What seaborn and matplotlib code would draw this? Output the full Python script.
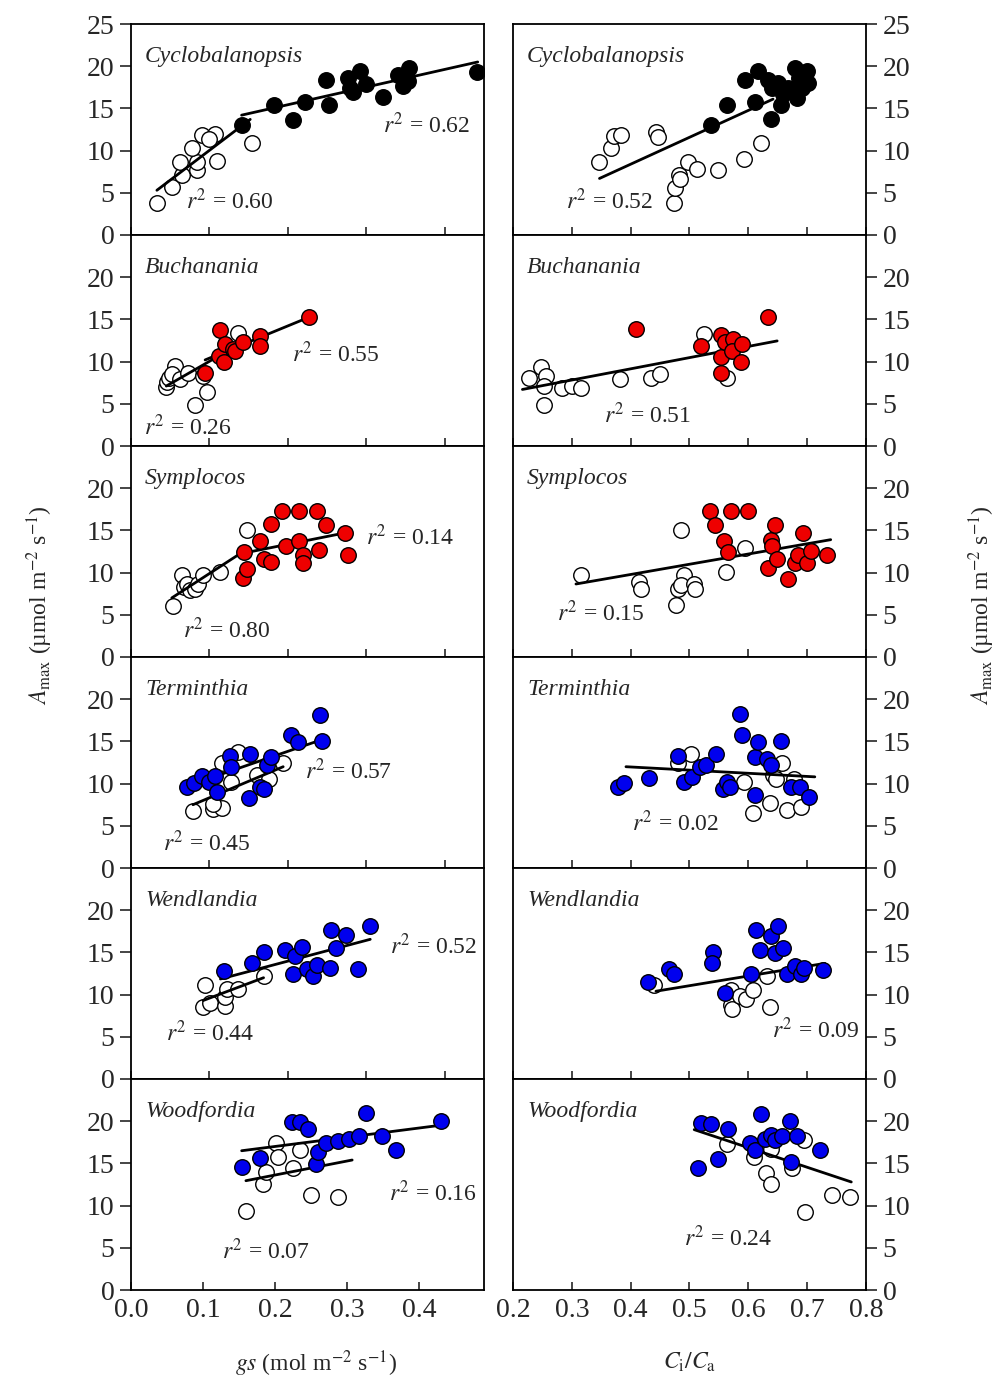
import numpy as np
import pandas as pd
import matplotlib
matplotlib.use("Agg")
import matplotlib.pyplot as plt
import seaborn as sns

# ---------------- data ----------------
species = ["Cyclobalanopsis", "Buchanania", "Symplocos", "Terminthia", "Wendlandia", "Woodfordia"]
fill_colors = ["#000000", "#ee0000", "#ee0000", "#0000ee", "#0000ee", "#0000ee"]

# Cyclobalanopsis
cyc_gs_open_x = [0.033, 0.052, 0.065, 0.063, 0.084, 0.084, 0.078, 0.090, 0.107, 0.099, 0.109, 0.154]
cyc_gs_open_y = [3.8, 5.7, 7.1, 8.65, 7.7, 8.65, 10.3, 11.8, 12.0, 11.4, 8.8, 10.9]
cyc_gs_fill_x = [0.141, 0.182, 0.206, 0.222, 0.248, 0.253, 0.277, 0.279, 0.283, 0.292, 0.300, 0.321, 0.340, 0.354, 0.347, 0.353, 0.441]
cyc_gs_fill_y = [13.0, 15.4, 13.65, 15.7, 18.35, 15.4, 18.6, 17.45, 16.9, 19.4, 17.85, 16.3, 19.0, 19.8, 17.6, 18.2, 19.3]
cyc_gs_open_line_x = [0.033, 0.152]
cyc_gs_open_line_y = [5.3, 13.7]
cyc_gs_fill_line_x = [0.141, 0.442]
cyc_gs_fill_line_y = [14.2, 20.5]

cyc_cc_open_x = [0.347, 0.366, 0.372, 0.383, 0.443, 0.446, 0.473, 0.475, 0.483, 0.484, 0.498, 0.513, 0.548, 0.592, 0.621]
cyc_cc_open_y = [8.7, 10.3, 11.7, 11.8, 12.2, 11.6, 3.8, 5.6, 7.1, 6.6, 8.6, 7.8, 7.7, 9.0, 10.9]
cyc_cc_fill_x = [0.536, 0.564, 0.595, 0.612, 0.617, 0.633, 0.639, 0.641, 0.650, 0.655, 0.659, 0.667, 0.679, 0.683, 0.686, 0.699, 0.701, 0.692]
cyc_cc_fill_y = [13.0, 15.4, 18.35, 15.8, 19.4, 18.4, 13.7, 17.45, 18.0, 15.4, 16.7, 17.45, 19.8, 16.2, 18.6, 19.4, 18.0, 17.45]
cyc_cc_line_x = [0.347, 0.642]
cyc_cc_line_y = [6.7, 16.1]

# Buchanania
buc_gs_open_x = [0.044, 0.046, 0.048, 0.056, 0.052, 0.063, 0.073, 0.092, 0.097, 0.082, 0.137]
buc_gs_open_y = [7.0, 7.55, 8.1, 9.5, 8.5, 7.9, 8.7, 8.3, 6.4, 4.8, 13.4]
buc_gs_fill_x = [0.0945, 0.113, 0.112, 0.118, 0.120, 0.1305, 0.133, 0.1425, 0.1645, 0.1645, 0.227]
buc_gs_fill_y = [8.7, 13.8, 10.7, 9.9, 12.05, 11.5, 11.3, 12.3, 13.0, 11.9, 15.3]
buc_gs_open_line_x = [0.045, 0.105]
buc_gs_open_line_y = [7.1, 10.3]
buc_gs_fill_line_x = [0.0945, 0.228]
buc_gs_fill_line_y = [10.2, 15.3]

buc_cc_open_x = [0.227, 0.248, 0.256, 0.252, 0.252, 0.284, 0.301, 0.315, 0.382, 0.435, 0.450, 0.524, 0.564]
buc_cc_open_y = [8.1, 9.4, 8.3, 7.1, 4.8, 6.9, 7.1, 6.9, 7.9, 8.1, 8.5, 13.3, 8.1]
buc_cc_fill_x = [0.409, 0.520, 0.553, 0.553, 0.554, 0.561, 0.574, 0.572, 0.589, 0.587, 0.633]
buc_cc_fill_y = [13.9, 11.9, 13.1, 10.6, 8.7, 12.3, 12.7, 11.3, 12.05, 9.9, 15.3]
buc_cc_line_x = [0.216, 0.649]
buc_cc_line_y = [6.7, 12.45]

# Symplocos
sym_gs_open_x = [0.053, 0.065, 0.067, 0.071, 0.0755, 0.082, 0.086, 0.092, 0.114, 0.148]
sym_gs_open_y = [6.1, 9.7, 8.3, 8.7, 7.9, 8.1, 8.7, 9.7, 10.1, 15.0]
sym_gs_fill_x = [0.1425, 0.148, 0.144, 0.1645, 0.1696, 0.179, 0.179, 0.193, 0.198, 0.2145, 0.2145, 0.2196, 0.219, 0.237, 0.240, 0.249, 0.2726, 0.277]
sym_gs_fill_y = [9.4, 10.4, 12.4, 13.8, 11.65, 11.25, 15.7, 17.25, 13.1, 17.25, 13.8, 12.05, 11.15, 17.25, 12.7, 15.6, 14.7, 12.05]
sym_gs_open_line_x = [0.052, 0.145]
sym_gs_open_line_y = [7.0, 12.6]
sym_gs_fill_line_x = [0.143, 0.2726]
sym_gs_fill_line_y = [12.3, 14.7]

sym_cc_open_x = [0.315, 0.415, 0.4175, 0.477, 0.480, 0.486, 0.490, 0.485, 0.508, 0.509, 0.562, 0.595]
sym_cc_open_y = [9.7, 8.9, 8.0, 6.2, 8.1, 15.0, 9.7, 8.5, 8.7, 8.0, 10.1, 12.95]
sym_cc_fill_x = [0.534, 0.5425, 0.558, 0.566, 0.571, 0.600, 0.633, 0.639, 0.640, 0.646, 0.649, 0.667, 0.679, 0.684, 0.693, 0.700, 0.706, 0.733]
sym_cc_fill_y = [17.3, 15.6, 13.8, 12.4, 17.3, 17.3, 10.5, 13.9, 13.2, 15.6, 11.65, 9.3, 11.15, 12.05, 14.7, 11.15, 12.6, 12.05]
sym_cc_line_x = [0.307, 0.740]
sym_cc_line_y = [8.65, 13.9]

# Terminthia
ter_gs_open_x = [0.079, 0.104, 0.116, 0.105, 0.116, 0.128, 0.137, 0.160, 0.176, 0.194]
ter_gs_open_y = [6.7, 7.0, 7.1, 7.6, 12.4, 10.2, 13.7, 11.0, 10.6, 12.4]
ter_gs_fill_x = [0.071, 0.080, 0.090, 0.099, 0.107, 0.109, 0.126, 0.128, 0.152, 0.150, 0.1645, 0.169, 0.173, 0.179, 0.204, 0.213, 0.241, 0.243]
ter_gs_fill_y = [9.6, 10.1, 10.9, 10.2, 10.9, 9.0, 13.3, 12.0, 13.5, 8.25, 9.6, 9.4, 12.2, 13.15, 15.8, 14.9, 18.15, 15.0]
ter_gs_open_line_x = [0.079, 0.194]
ter_gs_open_line_y = [7.5, 12.0]
ter_gs_fill_line_x = [0.071, 0.243]
ter_gs_fill_line_y = [9.7, 15.2]

ter_cc_open_x = [0.480, 0.503, 0.592, 0.608, 0.636, 0.642, 0.647, 0.657, 0.665, 0.678, 0.689]
ter_cc_open_y = [12.4, 13.5, 10.2, 6.5, 7.7, 11.0, 10.6, 12.4, 6.9, 10.6, 7.2]
ter_cc_fill_x = [0.378, 0.389, 0.432, 0.480, 0.491, 0.505, 0.517, 0.528, 0.545, 0.557, 0.563, 0.568, 0.585, 0.589, 0.611, 0.612, 0.617, 0.632, 0.639, 0.656, 0.673, 0.687, 0.703]
ter_cc_fill_y = [9.6, 10.1, 10.7, 13.3, 10.2, 10.8, 12.0, 12.2, 13.5, 9.4, 10.2, 9.6, 18.2, 15.7, 13.2, 8.65, 14.9, 12.9, 12.2, 15.1, 9.6, 9.6, 8.4]
ter_cc_line_x = [0.392, 0.713]
ter_cc_line_y = [12.0, 10.8]

# Wendlandia
wen_gs_open_x = [0.092, 0.0945, 0.101, 0.120, 0.120, 0.122, 0.137, 0.169]
wen_gs_open_y = [8.5, 11.1, 9.0, 8.65, 9.7, 10.7, 10.7, 12.25]
wen_gs_fill_x = [0.118, 0.154, 0.1696, 0.196, 0.209, 0.2175, 0.207, 0.224, 0.232, 0.237, 0.2536, 0.2545, 0.261, 0.274, 0.2896, 0.305]
wen_gs_fill_y = [12.8, 13.8, 15.1, 15.3, 14.6, 15.65, 12.5, 13.0, 12.25, 13.5, 13.15, 17.7, 15.5, 17.05, 13.0, 18.1]
wen_gs_open_line_x = [0.092, 0.169]
wen_gs_open_line_y = [9.3, 12.0]
wen_gs_fill_line_x = [0.114, 0.305]
wen_gs_fill_line_y = [11.85, 16.55]

wen_cc_open_x = [0.439, 0.570, 0.571, 0.572, 0.585, 0.596, 0.608, 0.632, 0.636]
wen_cc_open_y = [11.1, 10.6, 8.8, 8.3, 9.8, 9.5, 10.6, 12.25, 8.5]
wen_cc_fill_x = [0.430, 0.466, 0.474, 0.540, 0.538, 0.561, 0.605, 0.613, 0.619, 0.639, 0.651, 0.646, 0.659, 0.666, 0.679, 0.689, 0.695, 0.727]
wen_cc_fill_y = [11.5, 13.0, 12.5, 15.0, 13.8, 10.2, 12.4, 17.7, 15.3, 16.9, 18.1, 14.9, 15.5, 12.5, 13.4, 12.4, 13.2, 12.9]
wen_cc_line_x = [0.443, 0.730]
wen_cc_line_y = [10.4, 13.7]

# Woodfordia
woo_gs_open_x = [0.1595, 0.1826, 0.188, 0.201, 0.204, 0.225, 0.235, 0.250, 0.287]
woo_gs_open_y = [9.4, 12.6, 14.0, 17.45, 15.7, 14.4, 16.6, 11.3, 11.0]
woo_gs_fill_x = [0.1536, 0.179, 0.224, 0.234, 0.2456, 0.257, 0.259, 0.270, 0.287, 0.303, 0.316, 0.326, 0.349, 0.3685, 0.430]
woo_gs_fill_y = [14.6, 15.6, 19.9, 19.9, 19.1, 14.9, 16.35, 17.4, 17.6, 17.85, 18.3, 21.0, 18.3, 16.6, 20.0]
woo_gs_open_line_x = [0.1595, 0.307]
woo_gs_open_line_y = [12.95, 15.4]
woo_gs_fill_line_x = [0.1536, 0.428]
woo_gs_fill_line_y = [16.5, 19.5]

woo_cc_open_x = [0.564, 0.609, 0.630, 0.638, 0.638, 0.674, 0.695, 0.696, 0.742, 0.772]
woo_cc_open_y = [17.25, 15.7, 13.9, 12.6, 16.7, 14.4, 17.8, 9.3, 11.3, 11.0]
woo_cc_fill_x = [0.514, 0.520, 0.537, 0.548, 0.566, 0.602, 0.612, 0.621, 0.629, 0.639, 0.645, 0.657, 0.670, 0.672, 0.682, 0.721]
woo_cc_fill_y = [14.5, 19.8, 19.7, 15.5, 19.1, 17.4, 16.6, 20.9, 17.9, 18.4, 17.8, 18.3, 20.0, 15.2, 18.3, 16.6]
woo_cc_line_x = [0.508, 0.775]
woo_cc_line_y = [19.0, 12.8]

# r-squared labels
gs_r2_labels = [("0.60", "0.62"), ("0.26", "0.55"), ("0.80", "0.14"), ("0.45", "0.57"), ("0.44", "0.52"), ("0.07", "0.16")]
cc_r2_labels = ["0.52", "0.51", "0.15", "0.02", "0.09", "0.24"]

gs_ticks = [0.0, 0.1, 0.2, 0.3, 0.4]
cc_ticks = [0.2, 0.3, 0.4, 0.5, 0.6, 0.7, 0.8]
y_ticks_top = [0, 5, 10, 15, 20, 25]
y_ticks = [0, 5, 10, 15, 20]

# ---------------- assemble ----------------
gs_panels = [
    (cyc_gs_open_x, cyc_gs_open_y, cyc_gs_fill_x, cyc_gs_fill_y, [(cyc_gs_open_line_x, cyc_gs_open_line_y), (cyc_gs_fill_line_x, cyc_gs_fill_line_y)]),
    (buc_gs_open_x, buc_gs_open_y, buc_gs_fill_x, buc_gs_fill_y, [(buc_gs_open_line_x, buc_gs_open_line_y), (buc_gs_fill_line_x, buc_gs_fill_line_y)]),
    (sym_gs_open_x, sym_gs_open_y, sym_gs_fill_x, sym_gs_fill_y, [(sym_gs_open_line_x, sym_gs_open_line_y), (sym_gs_fill_line_x, sym_gs_fill_line_y)]),
    (ter_gs_open_x, ter_gs_open_y, ter_gs_fill_x, ter_gs_fill_y, [(ter_gs_open_line_x, ter_gs_open_line_y), (ter_gs_fill_line_x, ter_gs_fill_line_y)]),
    (wen_gs_open_x, wen_gs_open_y, wen_gs_fill_x, wen_gs_fill_y, [(wen_gs_open_line_x, wen_gs_open_line_y), (wen_gs_fill_line_x, wen_gs_fill_line_y)]),
    (woo_gs_open_x, woo_gs_open_y, woo_gs_fill_x, woo_gs_fill_y, [(woo_gs_open_line_x, woo_gs_open_line_y), (woo_gs_fill_line_x, woo_gs_fill_line_y)]),
]
cc_panels = [
    (cyc_cc_open_x, cyc_cc_open_y, cyc_cc_fill_x, cyc_cc_fill_y, [(cyc_cc_line_x, cyc_cc_line_y)]),
    (buc_cc_open_x, buc_cc_open_y, buc_cc_fill_x, buc_cc_fill_y, [(buc_cc_line_x, buc_cc_line_y)]),
    (sym_cc_open_x, sym_cc_open_y, sym_cc_fill_x, sym_cc_fill_y, [(sym_cc_line_x, sym_cc_line_y)]),
    (ter_cc_open_x, ter_cc_open_y, ter_cc_fill_x, ter_cc_fill_y, [(ter_cc_line_x, ter_cc_line_y)]),
    (wen_cc_open_x, wen_cc_open_y, wen_cc_fill_x, wen_cc_fill_y, [(wen_cc_line_x, wen_cc_line_y)]),
    (woo_cc_open_x, woo_cc_open_y, woo_cc_fill_x, woo_cc_fill_y, [(woo_cc_line_x, woo_cc_line_y)]),
]

# label positions (data coords): gs (low-label, high-label), cc
gs_r2_pos = [((0.070, 4.0), (0.321, 13.0)), ((0.016, 2.2), (0.205, 10.9)), ((0.066, 3.1), (0.300, 14.2)),
             ((0.041, 2.9), (0.222, 11.4)), ((0.044, 5.4), (0.330, 15.7)), ((0.126, 4.6), (0.358, 11.4))]
cc_r2_pos = [(0.290, 4.0), (0.355, 3.6), (0.275, 5.2), (0.403, 5.3), (0.640, 5.75), (0.491, 6.1)]

# ---------------- style ----------------
sns.set_theme(style="ticks")
plt.rcParams["font.family"] = ["Liberation Serif", "DejaVu Serif"]
plt.rcParams["mathtext.fontset"] = "stix"
plt.rcParams["axes.linewidth"] = 1.3

fig, axes = plt.subplots(6, 2, figsize=(9.98, 13.81), dpi=100)
fig.subplots_adjust(left=131 / 998, right=866 / 998, top=1 - 24 / 1381, bottom=1 - 1290 / 1381,
                    hspace=0, wspace=29 / 353)

MS = 125
TICK_FS = 20
SP_FS = 17
R2_FS = 17


def draw_panel(ax, data, color):
    ox, oy, fx, fy, lines = data
    sns.scatterplot(x=ox, y=oy, ax=ax, color="white", edgecolor="black", s=MS, linewidth=1.0, zorder=2)
    for lx, ly in lines:
        sns.lineplot(x=lx, y=ly, ax=ax, color="black", linewidth=2.0, sort=False, zorder=3)
    sns.scatterplot(x=fx, y=fy, ax=ax, color=color, edgecolor="black", s=MS, linewidth=1.0, zorder=4)


for r in range(6):
    axl, axr = axes[r, 0], axes[r, 1]
    draw_panel(axl, gs_panels[r], fill_colors[r])
    draw_panel(axr, cc_panels[r], fill_colors[r])

    axl.set_xlim(0, 0.49 if r == 5 else 0.45)
    axr.set_xlim(0.2, 0.8)
    for ax in (axl, axr):
        ax.set_ylim(0, 25)
        ax.set_yticks(y_ticks_top if r == 0 else y_ticks)
        ax.set_xlabel("")
        ax.set_ylabel("")
        for s in ax.spines.values():
            s.set_visible(True)
            s.set_color("black")
            s.set_linewidth(1.3)
        ax.text(0.04, 0.845, species[r], transform=ax.transAxes, fontsize=SP_FS, style="italic",
                ha="left", va="center", zorder=1)

    axl.set_xticks(gs_ticks)
    axr.set_xticks(cc_ticks)
    axl.tick_params(axis="y", direction="out", length=8, width=1.2, labelsize=TICK_FS,
                    left=True, right=False, labelleft=True, labelright=False, pad=4)
    axr.yaxis.tick_right()
    axr.tick_params(axis="y", direction="out", length=8, width=1.2, labelsize=TICK_FS,
                    left=False, right=True, labelleft=False, labelright=True, pad=4)
    for ax in (axl, axr):
        ax.tick_params(axis="x", direction="in", length=6, width=1.2, labelsize=TICK_FS,
                       bottom=True, top=False, labelbottom=(r == 5), pad=6)
    if r == 5:
        axl.set_xticklabels([f"{t:.1f}" for t in gs_ticks])
        axr.set_xticklabels([f"{t:.1f}" for t in cc_ticks])

    (lo, hi) = gs_r2_labels[r]
    (plo, phi) = gs_r2_pos[r]
    axl.text(plo[0], plo[1], r"$r^2$" + " = " + lo, fontsize=R2_FS, ha="left", va="center", zorder=5)
    axl.text(phi[0], phi[1], r"$r^2$" + " = " + hi, fontsize=R2_FS, ha="left", va="center", zorder=5)
    pc = cc_r2_pos[r]
    axr.text(pc[0], pc[1], r"$r^2$" + " = " + cc_r2_labels[r], fontsize=R2_FS, ha="left", va="center", zorder=5)

ylab = r"$A_{\mathrm{max}}$ (µmol m$^{-2}$ s$^{-1}$)"
fig.text(40 / 998, 1 - 605 / 1381, ylab, rotation=90, fontsize=17, ha="center", va="center")
fig.text(982 / 998, 1 - 605 / 1381, ylab, rotation=90, fontsize=17, ha="center", va="center")
fig.text(316 / 998, 1 - 1364 / 1381, r"$gs$ (mol m$^{-2}$ s$^{-1}$)", fontsize=17, ha="center", va="center")
fig.text(690 / 998, 1 - 1362 / 1381, r"$C_{\mathrm{i}}/C_{\mathrm{a}}$", fontsize=17, ha="center", va="center")

fig.savefig("out.png", dpi=100, facecolor="white")
